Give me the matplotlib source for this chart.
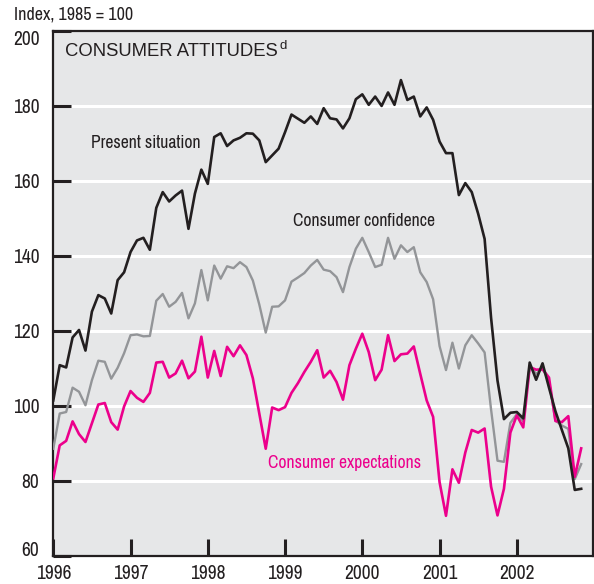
import numpy as np
import matplotlib
matplotlib.use("Agg")
import matplotlib.pyplot as plt
import matplotlib.transforms as mtransforms

# monthly, Jan 1996 .. Nov 2002
start_year = 1996
present = [101.4, 110.8, 110.2, 118.2, 120.2, 114.7, 125.1, 129.5, 128.6, 124.6, 133.5, 135.6,
           141.0, 144.1, 144.8, 141.6, 152.8, 157.0, 154.5, 156.1, 157.4, 147.2, 156.6, 163.0,
           159.2, 171.7, 172.7, 169.3, 170.8, 171.5, 172.7, 172.6, 170.8, 165.0, 166.8, 168.6,
           173.0, 177.7, 176.6, 175.5, 177.2, 175.2, 179.4, 176.7, 176.4, 174.0, 176.7, 181.8,
           183.1, 180.3, 182.5, 180.0, 183.6, 180.3, 186.9, 181.6, 182.5, 177.2, 179.6, 176.3,
           170.5, 167.4, 167.4, 156.2, 159.4, 157.0, 151.2, 144.5, 123.5, 106.7, 96.4, 98.1,
           98.3, 96.6, 111.5, 106.9, 111.3, 104.8, 98.5, 93.5, 88.6, 77.5, 77.8]
confidence = [88.5, 97.9, 98.3, 104.8, 103.7, 100.1, 106.8, 112.0, 111.7, 107.2, 110.1, 114.0,
              118.8, 119.0, 118.5, 118.6, 128.0, 129.8, 126.4, 127.7, 130.1, 123.3, 127.3, 136.2,
              128.1, 137.4, 133.9, 137.2, 136.7, 138.3, 137.0, 133.4, 127.0, 119.5, 126.4, 126.5,
              128.1, 133.1, 134.2, 135.4, 137.4, 138.9, 136.3, 135.9, 134.3, 130.3, 137.0, 141.9,
              144.8, 141.0, 137.0, 137.6, 144.8, 139.2, 142.8, 141.0, 142.3, 135.6, 133.0, 128.4,
              115.9, 109.5, 116.8, 109.9, 116.1, 118.8, 116.6, 114.2, 99.0, 85.3, 85.0, 95.4,
              97.7, 95.8, 110.6, 108.5, 109.9, 106.5, 96.0, 94.7, 93.8, 80.4, 84.4]
expectations = [80.6, 89.4, 90.6, 95.8, 92.4, 90.3, 95.3, 100.3, 100.7, 95.6, 93.6, 99.8,
                103.9, 102.1, 101.0, 103.4, 111.5, 111.7, 107.5, 108.6, 112.0, 107.3, 109.1, 118.4,
                107.5, 114.6, 107.9, 115.7, 113.2, 116.1, 113.5, 107.3, 97.9, 88.5, 99.5, 98.8,
                99.6, 103.4, 106.0, 109.0, 111.7, 114.8, 107.5, 109.3, 106.3, 101.6, 110.8, 115.2,
                119.2, 114.3, 106.8, 109.6, 118.8, 111.9, 113.7, 113.9, 115.8, 108.5, 101.4, 97.0,
                79.6, 70.6, 83.0, 79.4, 87.5, 93.5, 92.8, 93.9, 78.4, 70.7, 77.8, 92.8,
                97.4, 94.2, 110.3, 109.6, 109.7, 107.5, 95.9, 95.6, 97.2, 81.0, 88.6]

year_ticks = [1996, 1997, 1998, 1999, 2000, 2001, 2002]
y_ticks = [60, 80, 100, 120, 140, 160, 180, 200]

t = start_year + np.arange(len(present)) / 12.0

plt.rcParams['font.family'] = ['Archivo Narrow', 'DejaVu Sans']
wide = ['Liberation Sans', 'DejaVu Sans']
ink = '#231f20'

fig = plt.figure(figsize=(5.94, 5.84), dpi=100)
ax = fig.add_axes([0.0897, 0.0488, 0.9078, 0.8981])
ax.set_facecolor('#e6e7e8')

for y in y_ticks[1:-1]:
    ax.axhline(y, color='white', lw=2.2, zorder=1)

ax.plot(t, confidence, color='#939598', lw=1.7, zorder=3)
ax.plot(t, expectations, color='#ec008c', lw=1.9, zorder=4)
ax.plot(t, present, color=ink, lw=1.9, zorder=5)

ax.set_xlim(1996, 2002.98)
ax.set_ylim(60, 200)
ax.set_xticks(year_ticks)
ax.set_yticks(y_ticks)
ax.tick_params(axis='x', direction='in', length=12.5, width=2.2, color=ink,
               labelsize=14, pad=6, labelcolor=ink)
ax.tick_params(axis='y', direction='in', length=13, width=2.2, color=ink,
               labelsize=14, pad=10, labelcolor=ink)
for s in ax.spines.values():
    s.set_color(ink)
    s.set_linewidth(1.6)

# edge labels sit a little inside in the original
labs = ax.get_yticklabels()
labs[0].set_transform(labs[0].get_transform() + mtransforms.ScaledTranslation(0, 5 / 72, fig.dpi_scale_trans))
labs[-1].set_transform(labs[-1].get_transform() + mtransforms.ScaledTranslation(0, -5 / 72, fig.dpi_scale_trans))

fig.text(14 / 594, 1 - 15 / 584, 'Index, 1985 = 100', fontsize=13, va='center', ha='left', color=ink)

title = ax.text(65 / 594, 1 - 51 / 584, 'CONSUMER ATTITUDES', transform=fig.transFigure,
                family=wide, fontsize=13.3, va='center', ha='left', color=ink)
ax.annotate('d', xy=(1, 1), xycoords=title, xytext=(1.5, 1.5), textcoords='offset points',
            family=wide, fontsize=9.5, va='top', ha='left', color=ink)

ax.text(91 / 594, 1 - 143 / 584, 'Present situation', transform=fig.transFigure,
        fontsize=12.7, va='center', ha='left', color=ink)
ax.text(293 / 594, 1 - 221 / 584, 'Consumer confidence', transform=fig.transFigure,
        fontsize=12.7, va='center', ha='left', color=ink)
ax.text(268 / 594, 1 - 463 / 584, 'Consumer expectations', transform=fig.transFigure,
        fontsize=12.7, va='center', ha='left', color='#ec008c')

fig.savefig('out.png', dpi=100)
